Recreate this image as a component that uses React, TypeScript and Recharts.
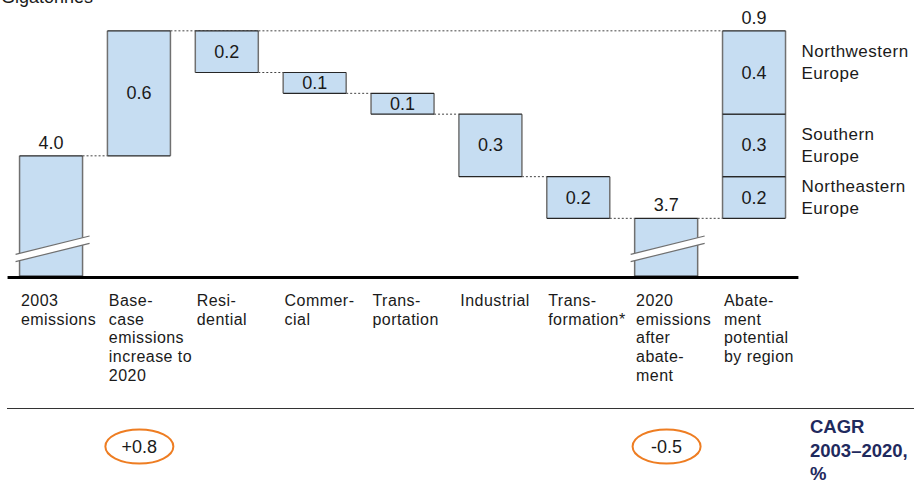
import React from 'react';
import { BarChart, Bar, XAxis, YAxis, LabelList } from 'recharts';

const categories = [
  '2003 emissions',
  'Base-case emissions increase to 2020',
  'Residential',
  'Commercial',
  'Transportation',
  'Industrial',
  'Transformation*',
  '2020 emissions after abatement',
  'Abatement potential by region',
];

// broken the same way the slide hyphenates them
const tickLines = [
  ['2003', 'emissions'],
  ['Base-', 'case', 'emissions', 'increase to', '2020'],
  ['Resi-', 'dential'],
  ['Commer-', 'cial'],
  ['Trans-', 'portation'],
  ['Industrial'],
  ['Trans-', 'formation*'],
  ['2020', 'emissions', 'after', 'abate-', 'ment'],
  ['Abate-', 'ment', 'potential', 'by region'],
];

const stepKinds = ['total', 'up', 'down', 'down', 'down', 'down', 'down', 'total', 'split'];
const stepValues = [4.0, 0.6, -0.2, -0.1, -0.1, -0.3, -0.2, 3.7, 0.9];

const regionNames = ['Northeastern\nEurope', 'Southern\nEurope', 'Northwestern\nEurope'];
const regionValues = [0.2, 0.3, 0.4];

const cagrLabels = ['', '+0.8', '', '', '', '', '', '-0.5', ''];

// layout
const W = 914;
const H = 480;
const MARGIN = { top: 10, right: 115.6, bottom: 172.5, left: 7.56 };
const X_AXIS_H = 30;
const PLOT_BOTTOM = H - MARGIN.bottom - X_AXIS_H;
const BAND = (W - MARGIN.left - MARGIN.right) / categories.length;
const BAR_SIZE = 63;
const connectorSpan = [1, 7, 1, 1, 1, 1, 1, 1, 0];
const regionShift = [0, 0, -10];

const FONT = '"Liberation Sans", Arial, sans-serif';
const TEXT = '#1a1a1a';
const FILL = '#c6ddf2';
const SIDE = '#707070';
const EDGE = '#262626';
const NAVY = '#1f2a5e';
const ORANGE = '#ee7d22';

const r1 = (v: number) => Math.round(v * 10) / 10;

let level = 0;
const rows = categories.map((name, i) => {
  const kind = stepKinds[i];
  const v = stepValues[i];
  const row: any = { name, kind };
  if (kind === 'total') {
    row.base = 0;
    row.delta = v;
    level = v;
  } else if (kind === 'up') {
    row.base = level;
    row.delta = v;
    level = r1(level + v);
  } else if (kind === 'down') {
    level = r1(level + v);
    row.base = level;
    row.delta = -v;
  } else {
    row.base = level;
    row.delta = regionValues[0];
    row.seg2 = regionValues[1];
    row.seg3 = regionValues[2];
    row.total = v;
    row.region1 = regionNames[0];
    row.region2 = regionNames[1];
    row.region3 = regionNames[2];
  }
  return row;
});

// bars that start at 0 run into the cut axis
const isBroken = (y: number, height: number) => y + height >= PLOT_BOTTOM - 1;

const Block = ({ x, y, w, h }: any) => (
  <g>
    <rect x={x} y={y} width={w} height={h} fill={FILL} />
    <line x1={x} y1={y} x2={x} y2={y + h} stroke={SIDE} strokeWidth={1.5} />
    <line x1={x + w} y1={y} x2={x + w} y2={y + h} stroke={SIDE} strokeWidth={1.5} />
    <line x1={x} y1={y} x2={x + w} y2={y} stroke={EDGE} strokeWidth={1.2} />
    <line x1={x} y1={y + h} x2={x + w} y2={y + h} stroke={EDGE} strokeWidth={1.2} />
  </g>
);

const BreakMark = ({ x, w, b }: any) => {
  const x1 = x - 4;
  const x2 = x + w + 7;
  const lo1 = b - 14.3;
  const lo2 = b - 32.7;
  const up1 = b - 21.7;
  const up2 = b - 40;
  return (
    <g>
      <polygon points={`${x1},${lo1} ${x2},${lo2} ${x2},${up2} ${x1},${up1}`} fill="#fff" />
      <line x1={x1} y1={lo1} x2={x2} y2={lo2} stroke={SIDE} strokeWidth={1.2} />
      <line x1={x1} y1={up1} x2={x2} y2={up2} stroke={SIDE} strokeWidth={1.2} />
    </g>
  );
};

const EmptyShape = () => <g />;

const StepShape = (p: any) => {
  const { x, y, width, height } = p;
  if (!height || height <= 0) return <g />;
  const idx = p.index ?? categories.indexOf(p.payload?.name);
  const kind = stepKinds[idx];
  const broken = isBroken(y, height);
  const bottom = broken ? PLOT_BOTTOM - 1.5 : y + height;
  const lvl = kind === 'down' ? y + height : y;
  const span = connectorSpan[idx] || 0;
  return (
    <g>
      {span > 0 && (
        <line x1={x + width} y1={lvl} x2={x + span * BAND} y2={lvl} stroke="#444" strokeDasharray="2 2" />
      )}
      <Block x={x} y={y} w={width} h={bottom - y} />
      {broken && <BreakMark x={x} w={width} b={bottom} />}
    </g>
  );
};

const SegShape = (p: any) => {
  const { x, y, width, height } = p;
  if (!height || height <= 0) return <g />;
  return <Block x={x} y={y} w={width} h={height} />;
};

const box = (p: any) => {
  const vb = p.viewBox && p.viewBox.width != null ? p.viewBox : p;
  return { x: +vb.x, y: +vb.y, width: +vb.width, height: +vb.height };
};

const ValueLabel = (p: any) => {
  if (p.value == null) return null;
  const { x, y, width, height } = box(p);
  if (!height) return null;
  const cx = x + width / 2;
  const broken = isBroken(y, height);
  return (
    <text
      x={cx}
      y={broken ? y - 7 : y + height / 2}
      textAnchor="middle"
      dominantBaseline={broken ? 'auto' : 'central'}
      fontFamily={FONT}
      fontSize={18}
      fill={TEXT}
    >
      {Number(p.value).toFixed(1)}
    </text>
  );
};

const TopLabel = (p: any) => {
  if (p.value == null) return null;
  const { x, y, width } = box(p);
  return (
    <text x={x + width / 2} y={y - 7} textAnchor="middle" fontFamily={FONT} fontSize={18} fill={TEXT}>
      {Number(p.value).toFixed(1)}
    </text>
  );
};

const makeRegionLabel = (shift: number) => (p: any) => {
  if (!p.value) return null;
  const { x, y, width, height } = box(p);
  const lines = String(p.value).split('\n');
  const cy = y + height / 2 + shift;
  const lh = 22;
  return (
    <text fontFamily={FONT} fontSize={17} letterSpacing={0.5} fill={TEXT}>
      {lines.map((l, k) => (
        <tspan
          key={k}
          x={x + width + 16}
          y={cy + (k - (lines.length - 1) / 2) * lh}
          dominantBaseline="central"
        >
          {l}
        </tspan>
      ))}
    </text>
  );
};

const CategoryTick = (p: any) => {
  const { x, payload } = p;
  const i = categories.indexOf(payload?.value);
  if (i < 0) return <g />;
  const lines = tickLines[i];
  const left = x - BAR_SIZE / 2 + 1;
  const cagr = cagrLabels[i];
  return (
    <g>
      <text fontFamily={FONT} fontSize={16} letterSpacing={0.45} fill={TEXT}>
        {lines.map((l, k) => (
          <tspan key={k} x={left} y={PLOT_BOTTOM + 28.2 + k * 18.8}>
            {l}
          </tspan>
        ))}
      </text>
      {cagr && (
        <g>
          <ellipse cx={x} cy={446.5} rx={34} ry={17} fill="none" stroke={ORANGE} strokeWidth={2} />
          <text
            x={x}
            y={446.5}
            textAnchor="middle"
            dominantBaseline="central"
            fontFamily={FONT}
            fontSize={18}
            fill={TEXT}
          >
            {cagr}
          </text>
        </g>
      )}
    </g>
  );
};

export default function App() {
  return (
    <div style={{ position: 'absolute', left: 0, top: 0, width: W, height: H, background: '#fff' }}>
      <BarChart width={W} height={H} data={rows} margin={MARGIN} barSize={BAR_SIZE}>
        <YAxis hide type="number" domain={[3.416, 4.7]} allowDataOverflow />
        <XAxis
          dataKey="name"
          interval={0}
          height={X_AXIS_H}
          tickLine={false}
          axisLine={{ stroke: '#000', strokeWidth: 3 }}
          tick={CategoryTick}
        />
        <Bar dataKey="base" stackId="w" fill="transparent" shape={EmptyShape} isAnimationActive={false} />
        <Bar dataKey="delta" stackId="w" fill={FILL} shape={StepShape} isAnimationActive={false}>
          <LabelList dataKey="delta" content={ValueLabel} />
          <LabelList dataKey="region1" content={makeRegionLabel(regionShift[0])} />
        </Bar>
        <Bar dataKey="seg2" stackId="w" fill={FILL} shape={SegShape} isAnimationActive={false}>
          <LabelList dataKey="seg2" content={ValueLabel} />
          <LabelList dataKey="region2" content={makeRegionLabel(regionShift[1])} />
        </Bar>
        <Bar dataKey="seg3" stackId="w" fill={FILL} shape={SegShape} isAnimationActive={false}>
          <LabelList dataKey="seg3" content={ValueLabel} />
          <LabelList dataKey="total" content={TopLabel} />
          <LabelList dataKey="region3" content={makeRegionLabel(regionShift[2])} />
        </Bar>
      </BarChart>
      <svg width={W} height={H} style={{ position: 'absolute', left: 0, top: 0, pointerEvents: 'none' }}>
        <text x={1} y={3} fontFamily={FONT} fontSize={18} fill={TEXT}>
          Gigatonnes
        </text>
        <line x1={7} y1={408.5} x2={W} y2={408.5} stroke="#333" strokeWidth={1} />
        <text fontFamily={FONT} fontSize={18.5} fontWeight="bold" fill={NAVY}>
          <tspan x={810} y={433.4}>CAGR</tspan>
          <tspan x={810} y={456.6}>2003–2020,</tspan>
          <tspan x={810} y={479.8}>%</tspan>
        </text>
      </svg>
    </div>
  );
}
